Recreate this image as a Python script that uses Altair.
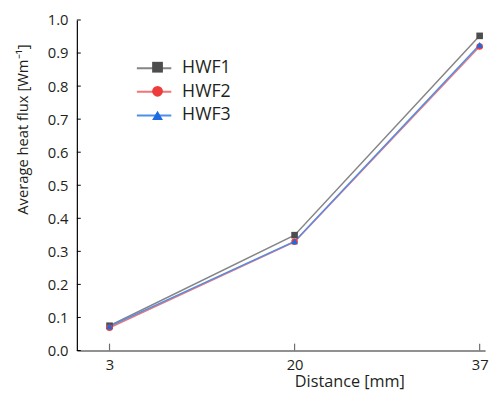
import altair as alt
import pandas as pd

distance = [3, 20, 37]
series_names = ["HWF1", "HWF2", "HWF3"]
hwf1 = [0.075, 0.349, 0.952]
hwf2 = [0.069, 0.329, 0.920]
hwf3 = [0.073, 0.330, 0.925]
y_ticks = [0.0, 0.1, 0.2, 0.3, 0.4, 0.5, 0.6, 0.7, 0.8, 0.9, 1.0]
x_ticks = [3, 20, 37]

line_colors = ["#858585", "#f27474", "#4f8ee8"]
marker_colors = ["#4d4d4d", "#ee3b3b", "#1c6be0"]
shapes = ["square", "circle", "triangle-up"]

rows = []
for name, vals in zip(series_names, [hwf1, hwf2, hwf3]):
    for d, v in zip(distance, vals):
        rows.append({"distance": d, "flux": v, "series": name, "marker": name})
df = pd.DataFrame(rows)

FONT = "Open Sans"
TXT = "#231f20"

x_scale = alt.Scale(domain=[0, 37.5], nice=False, zero=False)
y_scale = alt.Scale(domain=[0, 1], nice=False)

x_axis = alt.Axis(values=x_ticks, ticks=False, labelPadding=7, grid=False,
                  title="Distance [mm]", titleX=277, titleY=37,
                  titleBaseline="alphabetic", titleAlign="center",
                  domainColor="#6d6d6d", domainWidth=1.5,
                  labelFontSize=15, titleFontSize=16.5, titleFontWeight="normal",
                  labelColor=TXT, titleColor=TXT, labelFont=FONT, titleFont=FONT)
y_axis = alt.Axis(values=y_ticks, format=".1f", ticks=False, labelPadding=9, grid=False,
                  title="Average heat flux [Wm⁻¹]", titleX=-50, titleY=111,
                  titleBaseline="alphabetic", titleAlign="center",
                  domainColor="#000000", domainWidth=1.2,
                  labelFontSize=15, titleFontSize=15, titleFontWeight="normal",
                  labelColor=TXT, titleColor=TXT, labelFont=FONT, titleFont=FONT)

x_enc = alt.X("distance:Q", scale=x_scale, axis=x_axis)
y_enc = alt.Y("flux:Q", scale=y_scale, axis=y_axis)

base = alt.Chart(df)

lines = base.mark_line(strokeWidth=1.5).encode(
    x=x_enc, y=y_enc,
    stroke=alt.Stroke(
        "series:N",
        scale=alt.Scale(domain=series_names, range=line_colors),
        legend=alt.Legend(orient="none", legendX=69.5, legendY=40, title=None,
                          symbolType="M-2.5,0H2.5", symbolSize=196, symbolStrokeWidth=2,
                          labelOffset=19.5, labelFontSize=18, labelFont=FONT,
                          labelColor=TXT, padding=0, rowPadding=6),
    ),
)

marker_legend = alt.Legend(orient="none", legendX=74, legendY=40, title=None,
                           symbolSize=120, symbolStrokeWidth=0, labelExpr="''",
                           labelOffset=0, labelFontSize=16, labelFont=FONT,
                           padding=0, rowPadding=8.5)

points = base.mark_point(filled=True, size=45, opacity=1).encode(
    x=x_enc, y=y_enc,
    shape=alt.Shape("marker:N", scale=alt.Scale(range=shapes), legend=marker_legend),
    fill=alt.Fill("marker:N", scale=alt.Scale(range=marker_colors), legend=marker_legend),
)

ytick_df = pd.DataFrame({"flux": y_ticks})
xtick_df = pd.DataFrame({"distance": x_ticks})

yticks = alt.Chart(ytick_df).mark_rule(color="#000000", strokeWidth=1).encode(
    y=y_enc, x=alt.value(0), x2=alt.value(4),
)
xticks = alt.Chart(xtick_df).mark_rule(color="#6d6d6d", strokeWidth=1.2).encode(
    x=x_enc, y=alt.value(336), y2=alt.value(329),
)

chart = alt.layer(lines, points, xticks, yticks).properties(
    width=415, height=336,
    autosize=alt.AutoSizeParams(type="none"),
    padding={"left": 70, "top": 9, "right": 6, "bottom": 40},
    background="white",
).configure_view(stroke=None)

chart.save("out.html", embed_options={"renderer": "svg", "actions": False})
